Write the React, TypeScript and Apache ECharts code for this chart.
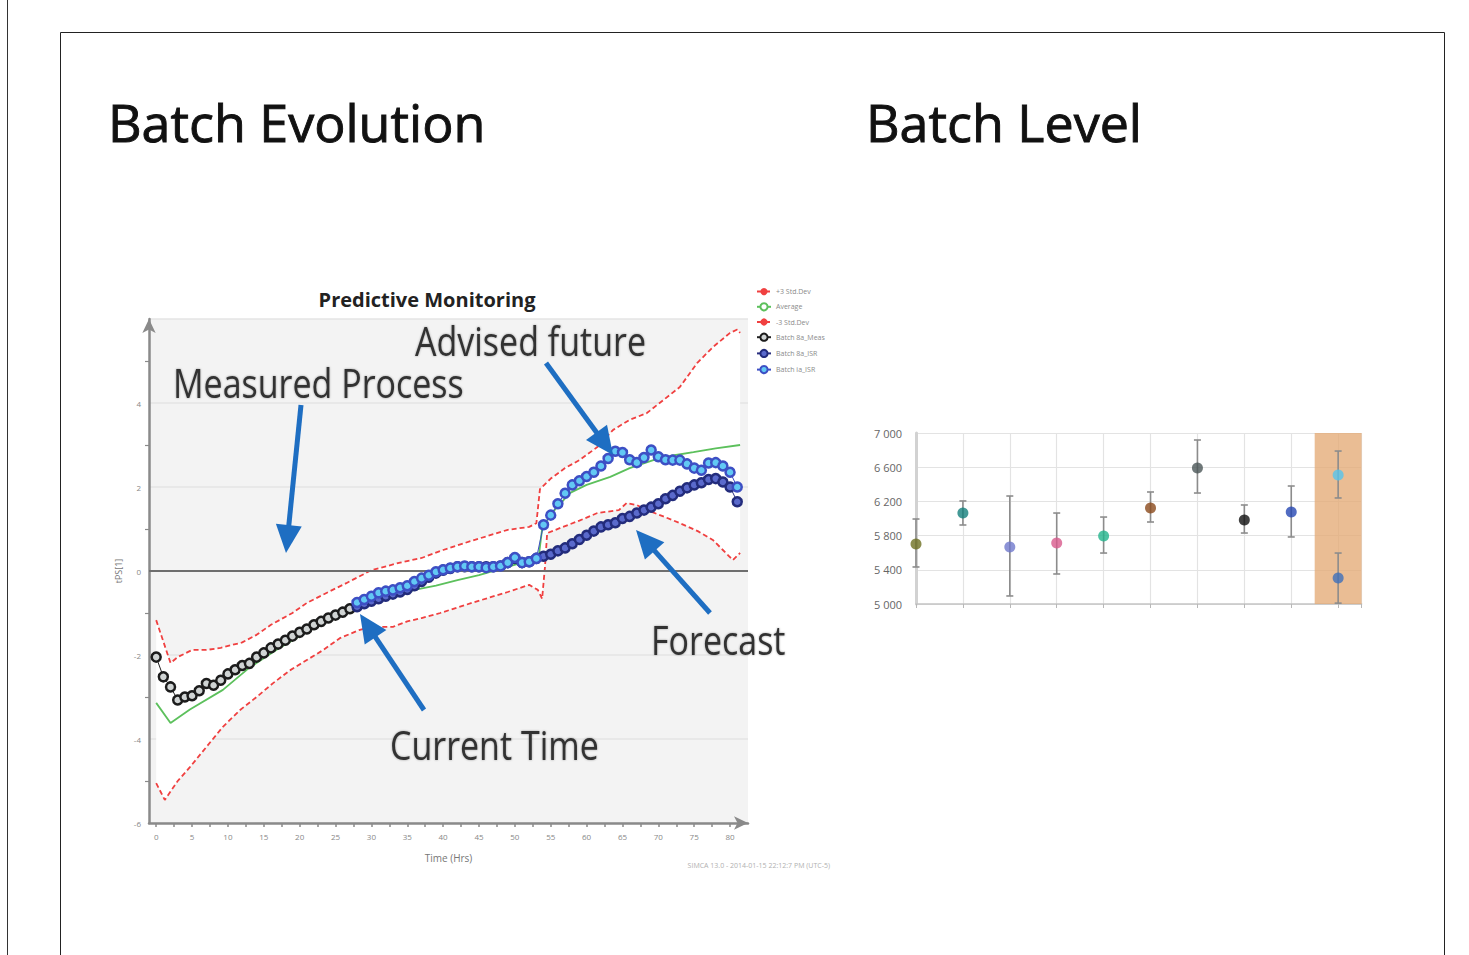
import React, { useEffect, useRef } from "react";
import * as echarts from "echarts";

// ---------- Batch Evolution (Predictive Monitoring) ----------
const measuredHours = [0, 1, 2, 3, 4, 5, 6, 7, 8, 9, 10, 11, 12, 13, 14, 15, 16, 17, 18, 19, 20, 21, 22, 23, 24, 25, 26, 27];
const measuredValues = [-2.05, -2.52, -2.76, -3.07, -3.0, -2.97, -2.85, -2.68, -2.72, -2.6, -2.45, -2.35, -2.25, -2.2, -2.05, -1.95, -1.83, -1.74, -1.65, -1.55, -1.46, -1.38, -1.28, -1.2, -1.12, -1.05, -0.98, -0.9];

const futureHours = [28, 29, 30, 31, 32, 33, 34, 35, 36, 37, 38, 39, 40, 41, 42, 43, 44, 45, 46, 47, 48, 49, 50, 51, 52, 53, 54, 55, 56, 57, 58, 59, 60, 61, 62, 63, 64, 65, 66, 67, 68, 69, 70, 71, 72, 73, 74, 75, 76, 77, 78, 79, 80, 81];
const forecastValues = [-0.85, -0.78, -0.72, -0.66, -0.6, -0.55, -0.5, -0.44, -0.35, -0.25, -0.15, -0.05, 0.02, 0.06, 0.1, 0.1, 0.1, 0.1, 0.1, 0.1, 0.12, 0.2, 0.3, 0.2, 0.22, 0.3, 0.35, 0.4, 0.48, 0.55, 0.65, 0.75, 0.85, 0.95, 1.05, 1.1, 1.15, 1.25, 1.3, 1.38, 1.45, 1.52, 1.6, 1.72, 1.8, 1.9, 1.98, 2.05, 2.1, 2.18, 2.2, 2.12, 2.0, 1.65];
const advisedValues = [-0.75, -0.68, -0.6, -0.52, -0.48, -0.45, -0.4, -0.35, -0.25, -0.17, -0.1, -0.02, 0.03, 0.07, 0.1, 0.12, 0.1, 0.1, 0.08, 0.1, 0.12, 0.2, 0.32, 0.2, 0.22, 0.3, 1.1, 1.33, 1.6, 1.85, 2.05, 2.15, 2.25, 2.35, 2.5, 2.68, 2.85, 2.82, 2.65, 2.58, 2.7, 2.88, 2.72, 2.65, 2.64, 2.64, 2.55, 2.45, 2.4, 2.57, 2.58, 2.5, 2.35, 2.0];

const upperHours = [0, 2, 3, 5, 7, 9, 12, 14, 16, 19, 21, 24, 26.5, 30, 34, 37, 40, 44, 49, 52, 53, 53.5, 55, 57, 59, 61.5, 63.7, 66, 68.4, 70.7, 73, 75.4, 77.6, 80, 81, 81.4];
const upperValues = [-1.17, -2.19, -2.05, -1.88, -1.88, -1.83, -1.7, -1.52, -1.28, -1.0, -0.76, -0.5, -0.29, 0.02, 0.2, 0.31, 0.5, 0.72, 0.98, 1.05, 1.14, 1.95, 2.2, 2.45, 2.64, 2.95, 3.36, 3.6, 3.76, 4.07, 4.38, 4.95, 5.33, 5.67, 5.75, 5.67];

const lowerHours = [0, 1.2, 3, 4.7, 7, 9.3, 11.7, 14, 16.3, 18.7, 21, 23.3, 25.6, 28.4, 30, 33, 35, 37, 39.6, 44, 49, 52, 53.2, 53.8, 54.2, 54.5, 56.7, 59, 61.5, 64.5, 65.6, 67, 68.4, 70.7, 73, 75.5, 77.6, 79, 80.4, 81.4];
const lowerValues = [-5.05, -5.45, -5.0, -4.67, -4.19, -3.71, -3.31, -3.0, -2.67, -2.36, -2.12, -1.88, -1.6, -1.4, -1.33, -1.33, -1.2, -1.12, -1.0, -0.76, -0.5, -0.33, -0.45, -0.66, 0.1, 0.9, 1.05, 1.2, 1.38, 1.45, 1.62, 1.57, 1.45, 1.3, 1.14, 0.95, 0.74, 0.5, 0.26, 0.43];

const avgHours = [0, 2, 4.7, 9.3, 13, 17, 21, 25, 28, 32, 36, 39, 42, 45, 48, 51, 53.3, 53.8, 55, 57.7, 60, 63.3, 66, 69.3, 72, 74.9, 78, 81.4];
const avgValues = [-3.14, -3.62, -3.3, -2.83, -2.3, -1.85, -1.45, -1.1, -0.88, -0.65, -0.45, -0.35, -0.22, -0.1, 0.05, 0.2, 0.3, 1.0, 1.35, 1.86, 2.05, 2.24, 2.45, 2.64, 2.75, 2.83, 2.92, 3.0];

const xLabelValues = [0, 5, 10, 15, 20, 25, 30, 35, 40, 45, 50, 55, 60, 65, 70, 75, 80];
const xTickValues = [0, 2.5, 5, 7.5, 10, 12.5, 15, 17.5, 20, 22.5, 25, 27.5, 30, 32.5, 35, 37.5, 40, 42.5, 45, 47.5, 50, 52.5, 55, 57.5, 60, 62.5, 65, 67.5, 70, 72.5, 75, 77.5, 80];
const legendNames = ["+3 Std.Dev", "Average", "-3 Std.Dev", "Batch 8a_Meas", "Batch 8a_ISR", "Batch ia_ISR"];

// ---------- Batch Level ----------
const batchIndex = [0, 1, 2, 3, 4, 5, 6, 7, 8, 9, 9];
const batchValues = [5702, 6064, 5667, 5713, 5795, 6123, 6591, 5982, 6076, 6509, 5304];
const batchLow = [5433, 5924, 5094, 5351, 5596, 5959, 6298, 5830, 5784, 6240, 5010];
const batchHigh = [5994, 6205, 6263, 6064, 6017, 6310, 6918, 6158, 6380, 6789, 5596];
const batchColors = ["#6e7022", "#14807c", "#6f78cc", "#d85a8c", "#22b48c", "#8b4a1c", "#4b5657", "#111111", "#2547b3", "#56c4ec", "#3d6fba"];
const highlightRange = [8.5, 9.5];

const pairs = (xs: number[], ys: number[]) => xs.map((x, i) => [x, ys[i]]);

const ARROW = "#1e6ec2";
function arrow(tail: number[], tip: number[]) {
  const dx = tip[0] - tail[0];
  const dy = tip[1] - tail[1];
  const len = Math.hypot(dx, dy);
  const ux = dx / len;
  const uy = dy / len;
  const headLen = 28;
  const headW = 13;
  const bx = tip[0] - ux * headLen;
  const by = tip[1] - uy * headLen;
  const px = -uy;
  const py = ux;
  return [
    { type: "line", z: 100, shape: { x1: tail[0], y1: tail[1], x2: bx + ux * 2, y2: by + uy * 2 }, style: { stroke: ARROW, lineWidth: 5 } },
    {
      type: "polygon",
      z: 100,
      shape: { points: [tip, [bx + px * headW, by + py * headW], [bx - px * headW, by - py * headW]] },
      style: { fill: ARROW },
    },
  ];
}

function annot(text: string, x: number, y: number) {
  return {
    type: "text",
    z: 101,
    x,
    y,
    scaleX: 0.85,
    style: {
      text,
      fontFamily: "Open Sans",
      fontSize: 40,
      fill: "#333333",
      textAlign: "left",
      textVerticalAlign: "bottom",
      textShadowColor: "rgba(0,0,0,0.35)",
      textShadowBlur: 2,
    },
  };
}

function heading(text: string, x: number) {
  return {
    type: "text",
    x,
    y: 121,
    style: {
      text,
      fontFamily: "Open Sans",
      fontSize: 52,
      fontWeight: 500,
      fill: "#111",
      stroke: "#111",
      lineWidth: 0.9,
      textAlign: "left",
      textVerticalAlign: "middle",
    },
  };
}

export default function App() {
  const ref = useRef<HTMLDivElement>(null);
  useEffect(() => {
    if (!ref.current) return;
    const chart = echarts.init(ref.current, null, { renderer: "svg" });

    const fmtThousands = (v: number) => {
      const k = Math.floor(v / 1000);
      const r = String(Math.round(v % 1000)).padStart(3, "0");
      return `${k} ${r}`;
    };

    const option: any = {
      animation: false,
      backgroundColor: "#ffffff",
      textStyle: { fontFamily: "Open Sans" },
      legend: {
        data: legendNames,
        orient: "vertical",
        left: 751,
        top: 283,
        itemWidth: 14,
        itemHeight: 9,
        itemGap: 7,
        textStyle: { fontSize: 7, color: "#8a8a8a" },
      },
      grid: [
        { left: 149, top: 319, width: 599, height: 504, show: true, backgroundColor: "#f3f3f3", borderWidth: 0 },
        { left: 916, top: 433, width: 445.6, height: 171 },
      ],
      xAxis: [
        {
          gridIndex: 0,
          type: "value",
          min: -1,
          max: 82.5,
          name: "Time (Hrs)",
          nameLocation: "middle",
          nameGap: 30,
          nameTextStyle: { fontSize: 10, color: "#777" },
          axisLine: { show: true, onZero: false, lineStyle: { color: "#8a8a8a", width: 2.5 }, symbol: ["none", "arrow"], symbolSize: [10, 14] },
          axisTick: { show: true, customValues: xTickValues, length: 4, lineStyle: { color: "#8a8a8a", width: 1.5 } },
          axisLabel: { customValues: xLabelValues, fontSize: 8, color: "#888", margin: 9 },
          splitLine: { show: false },
        },
        {
          gridIndex: 1,
          type: "value",
          min: 0,
          max: 9.5,
          interval: 1,
          axisLine: { show: true, lineStyle: { color: "#c4c4c4", width: 1.5 } },
          axisTick: { show: true, length: 4, lineStyle: { color: "#b8b8b8" } },
          axisLabel: { show: false },
          splitLine: { show: true, lineStyle: { color: "#e3e3e3", width: 1.2 } },
        },
      ],
      yAxis: [
        {
          gridIndex: 0,
          type: "value",
          min: -6,
          max: 6,
          interval: 2,
          name: "tPS[1]",
          nameLocation: "middle",
          nameGap: 26,
          nameRotate: 90,
          nameTextStyle: { fontSize: 9, color: "#777" },
          axisLine: { show: true, onZero: false, lineStyle: { color: "#8a8a8a", width: 2.5 }, symbol: ["none", "arrow"], symbolSize: [10, 14] },
          axisTick: { show: false },
          minorTick: { show: true, splitNumber: 2, length: 4, lineStyle: { color: "#8a8a8a", width: 1.2 } },
          axisLabel: { fontSize: 8, color: "#888", margin: 8, showMaxLabel: false },
          splitLine: { show: true, lineStyle: { color: "#e4e4e4", width: 1.5 } },
        },
        {
          gridIndex: 1,
          type: "value",
          min: 5000,
          max: 7000,
          interval: 400,
          offset: 6,
          axisLine: { show: true, lineStyle: { color: "#d2d2d2", width: 3 } },
          axisTick: { show: false },
          axisLabel: { fontSize: 11, color: "#666", margin: 8, formatter: fmtThousands },
          splitLine: { show: true, lineStyle: { color: "#e3e3e3", width: 1.2 } },
        },
      ],
      series: [
        {
          name: "Control band",
          type: "custom",
          xAxisIndex: 0,
          yAxisIndex: 0,
          silent: true,
          data: [[0, 0]],
          renderItem: (params: any, api: any) => {
            const top = upperHours.map((h, i) => api.coord([h, upperValues[i]]));
            const bottom = lowerHours.map((h, i) => api.coord([h, lowerValues[i]])).reverse();
            return { type: "polygon", shape: { points: [...top, ...bottom] }, style: { fill: "#ffffff" } };
          },
          z: 1,
        },
        {
          name: "+3 Std.Dev",
          type: "line",
          xAxisIndex: 0,
          yAxisIndex: 0,
          data: pairs(upperHours, upperValues),
          showSymbol: false,
          symbol: "circle",
          symbolSize: 3,
          itemStyle: { color: "#f04040" },
          lineStyle: { color: "#f04040", width: 1.8, type: [5, 3] },
          z: 3,
        },
        {
          name: "Average",
          type: "line",
          xAxisIndex: 0,
          yAxisIndex: 0,
          data: pairs(avgHours, avgValues),
          showSymbol: false,
          itemStyle: { color: "#5cc05c" },
          lineStyle: { color: "#5cc05c", width: 1.8 },
          z: 3,
        },
        {
          name: "-3 Std.Dev",
          type: "line",
          xAxisIndex: 0,
          yAxisIndex: 0,
          data: pairs(lowerHours, lowerValues),
          showSymbol: false,
          symbol: "circle",
          symbolSize: 3,
          itemStyle: { color: "#f04040" },
          lineStyle: { color: "#f04040", width: 1.8, type: [5, 3] },
          z: 3,
          markLine: {
            silent: true,
            symbol: ["none", "none"],
            label: { show: false },
            lineStyle: { color: "#6e6e6e", width: 2, type: "solid" },
            data: [{ yAxis: 0 }],
          },
        },
        {
          name: "Batch 8a_Meas",
          type: "line",
          xAxisIndex: 0,
          yAxisIndex: 0,
          data: pairs(measuredHours, measuredValues),
          symbol: "circle",
          symbolSize: 9,
          itemStyle: { color: "#d0d4d4", borderColor: "#1c1c1c", borderWidth: 2.5 },
          lineStyle: { color: "#222", width: 1 },
          z: 4,
        },
        {
          name: "Batch 8a_ISR",
          type: "line",
          xAxisIndex: 0,
          yAxisIndex: 0,
          data: pairs(futureHours, forecastValues),
          symbol: "circle",
          symbolSize: 9,
          itemStyle: { color: "#5a6acc", borderColor: "#232c7c", borderWidth: 2.5 },
          lineStyle: { color: "#2a2f80", width: 1 },
          z: 4,
        },
        {
          name: "Batch ia_ISR",
          type: "line",
          xAxisIndex: 0,
          yAxisIndex: 0,
          data: pairs(futureHours, advisedValues),
          symbol: "circle",
          symbolSize: 9,
          itemStyle: { color: "#62c8f4", borderColor: "#3d4fc4", borderWidth: 2.5 },
          lineStyle: { color: "#3d4fc4", width: 1 },
          z: 5,
        },
        {
          name: "Batch range",
          type: "custom",
          xAxisIndex: 1,
          yAxisIndex: 1,
          data: batchIndex.map((x, i) => [x, batchLow[i], batchHigh[i]]),
          renderItem: (params: any, api: any) => {
            const x = api.value(0);
            const lo = api.coord([x, api.value(1)]);
            const hi = api.coord([x, api.value(2)]);
            const cap = 3.5;
            const st = { stroke: "#8c8c8c", lineWidth: 1.6 };
            return {
              type: "group",
              children: [
                { type: "line", shape: { x1: lo[0], y1: lo[1], x2: hi[0], y2: hi[1] }, style: st },
                { type: "line", shape: { x1: lo[0] - cap, y1: lo[1], x2: lo[0] + cap, y2: lo[1] }, style: st },
                { type: "line", shape: { x1: hi[0] - cap, y1: hi[1], x2: hi[0] + cap, y2: hi[1] }, style: st },
              ],
            };
          },
          markArea: {
            silent: true,
            itemStyle: { color: "rgba(228,170,118,0.78)" },
            data: [[{ xAxis: highlightRange[0] }, { xAxis: highlightRange[1] }]],
          },
          z: 2,
        },
        {
          name: "Batch level",
          type: "scatter",
          xAxisIndex: 1,
          yAxisIndex: 1,
          symbolSize: 11,
          data: batchIndex.map((x, i) => ({ value: [x, batchValues[i]], itemStyle: { color: batchColors[i] } })),
          z: 5,
        },
      ],
      graphic: [
        { type: "line", shape: { x1: 7.5, y1: 0, x2: 7.5, y2: 955 }, style: { stroke: "#333", lineWidth: 1 } },
        { type: "rect", shape: { x: 60.5, y: 32.5, width: 1384, height: 1000 }, style: { fill: "none", stroke: "#222", lineWidth: 1 } },
        heading("Batch Evolution", 108),
        heading("Batch Level", 866),
        {
          type: "text",
          x: 427,
          y: 299,
          style: { text: "Predictive Monitoring", fontFamily: "Open Sans", fontSize: 20, fontWeight: "bold", fill: "#222", textAlign: "center", textVerticalAlign: "middle" },
        },
        {
          type: "text",
          x: 830,
          y: 865,
          style: { text: "SIMCA 13.0 - 2014-01-15 22:12:7 PM (UTC-5)", fontFamily: "Open Sans", fontSize: 7, fill: "#b0b0b0", textAlign: "right", textVerticalAlign: "middle" },
        },
        annot("Measured Process", 173, 402),
        annot("Advised future", 415, 360),
        annot("Forecast", 651, 659),
        annot("Current Time", 390, 764),
        ...arrow([301, 405], [286, 553]),
        ...arrow([546, 363], [613, 455]),
        ...arrow([710, 613], [636, 530]),
        ...arrow([424, 710], [360, 614]),
      ],
    };

    chart.setOption(option);
    return () => chart.dispose();
  }, []);

  return <div ref={ref} style={{ position: "fixed", left: 0, top: 0, width: 1469, height: 955 }} />;
}
